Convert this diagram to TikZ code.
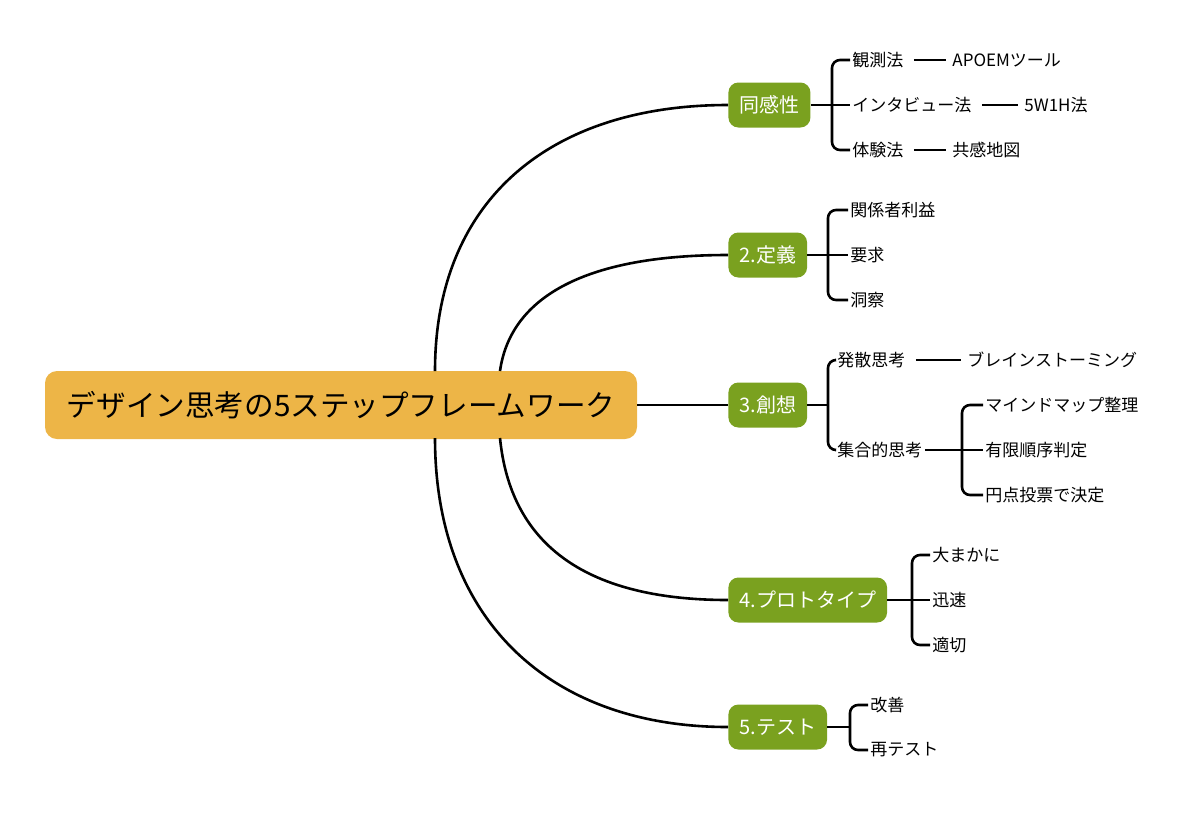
\documentclass[tikz,border=0pt]{standalone}
\usepackage{fontspec}
\setmainfont{Noto Sans CJK JP}
\usetikzlibrary{positioning}
\definecolor{rootorange}{HTML}{EDB547}
\definecolor{stepgreen}{HTML}{7AA11F}
\tikzset{
  root/.style={fill=rootorange,rounded corners=6pt,minimum width=296pt,minimum height=34pt,font=\fontsize{14.8}{16}\selectfont},
  stage/.style={fill=stepgreen,text=white,rounded corners=5pt,minimum height=22.5pt,inner xsep=5.5pt,anchor=west,font=\fontsize{10}{12}\selectfont},
  leaf/.style={anchor=west,inner sep=1pt,font=\fontsize{8.5}{10}\selectfont},
  link/.style={line width=1.3pt},
  brace/.style={line width=1.3pt,rounded corners=4pt}
}
\begin{document}
\begin{tikzpicture}[x=0.5pt,y=-0.5pt]
\useasboundingbox (0,0) rectangle (1197,825);
% root and stages
\node[root] (R) at (341,405) {デザイン思考の5ステップフレームワーク};
\node[stage] (S1) at (728,105) {同感性};
\node[stage] (S2) at (728,255) {2.定義};
\node[stage] (S3) at (728,405) {3.創想};
\node[stage] (S4) at (728,600) {4.プロトタイプ};
\node[stage] (S5) at (728,727) {5.テスト};
\draw[link] (435,371) .. controls (435,200) and (550,105) .. (S1.west);
\draw[link] (500,371) .. controls (510,300) and (580,255) .. (S2.west);
\draw[link] (R.east) -- (S3.west);
\draw[link] (500,438) .. controls (510,540) and (580,600) .. (S4.west);
\draw[link] (435,438) .. controls (435,620) and (550,727) .. (S5.west);
% leaves
\node[leaf] (A1) at (850,60) {観測法};
\node[leaf] (A2) at (850,105) {インタビュー法};
\node[leaf] (A3) at (850,150) {体験法};
\node[leaf] (A1a) at (950,60) {APOEMツール};
\node[leaf] (A2a) at (1022,105) {5W1H法};
\node[leaf] (A3a) at (950,150) {共感地図};
\node[leaf] (B1) at (848,210) {関係者利益};
\node[leaf] (B2) at (848,255) {要求};
\node[leaf] (B3) at (848,300) {洞察};
\node[leaf] (C1) at (835,360) {発散思考};
\node[leaf] (C2) at (835,450) {集合的思考};
\node[leaf] (C1a) at (965,360) {ブレインストーミング};
\node[leaf] (C2a) at (983,405) {マインドマップ整理};
\node[leaf] (C2b) at (983,450) {有限順序判定};
\node[leaf] (C2c) at (983,495) {円点投票で決定};
\node[leaf] (D1) at (930,555) {大まかに};
\node[leaf] (D2) at (930,600) {迅速};
\node[leaf] (D3) at (930,645) {適切};
\node[leaf] (E1) at (868,705) {改善};
\node[leaf] (E2) at (868,750) {再テスト};
% brackets
\draw[link] (S1.east) -- (A2.west);
\draw[brace] (A1.west) -| (832,105) |- (A3.west);
\draw[link] (S2.east) -- (B2.west);
\draw[brace] (B1.west) -| (828,255) |- (B3.west);
\draw[link] (S3.east) -- (828,405);
\draw[brace] (C1.west) -| (828,405) |- (C2.west);
\draw[link] (C2.east) -- (962,450);
\draw[brace] (C2a.west) -| (962,450) |- (C2c.west);
\draw[link] (962,450) -- (C2b.west);
\draw[link] (S4.east) -- (D2.west);
\draw[brace] (D1.west) -| (912,600) |- (D3.west);
\draw[link] (S5.east) -- (850,727);
\draw[brace] (E1.west) -| (850,727) |- (E2.west);
\draw[link] ([xshift=4pt]A1.east) -- ([xshift=-2pt]A1a.west);
\draw[link] ([xshift=4pt]A2.east) -- ([xshift=-2pt]A2a.west);
\draw[link] ([xshift=4pt]A3.east) -- ([xshift=-2pt]A3a.west);
\draw[link] ([xshift=4pt]C1.east) -- ([xshift=-2pt]C1a.west);
\end{tikzpicture}
\end{document}
